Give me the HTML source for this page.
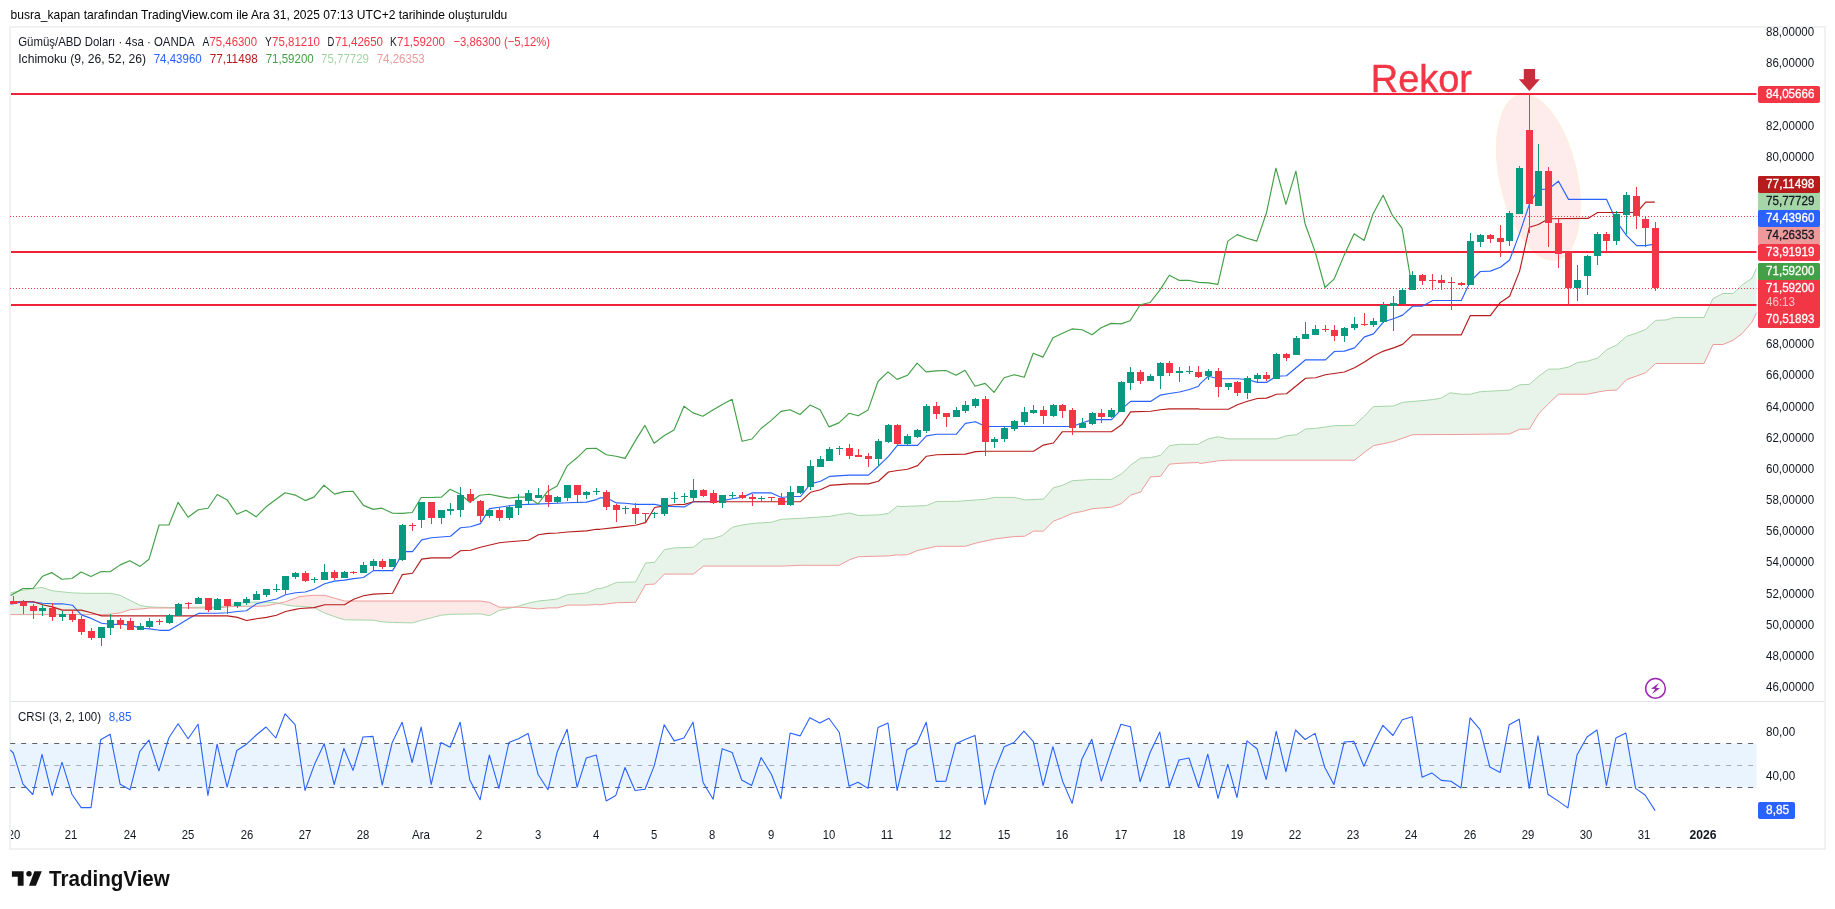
<!DOCTYPE html><html><head><meta charset="utf-8"><style>html,body{margin:0;padding:0;background:#fff;width:1835px;height:909px;overflow:hidden}</style></head><body><svg width="1835" height="909" viewBox="0 0 1835 909" font-family="Liberation Sans, sans-serif" style="position:absolute;left:0;top:0;will-change:transform">
<rect width="1835" height="909" fill="#fff"/>
<rect x="10" y="27" width="1815" height="822" fill="none" stroke="#f0f1f3" stroke-width="2"/>
<rect x="11" y="701" width="1813" height="1" fill="#e0e3eb"/>
<clipPath id="cm"><rect x="10" y="28" width="1746.7" height="672.8"/></clipPath>
<clipPath id="cc"><rect x="10" y="702" width="1746.7" height="118"/></clipPath>
<g clip-path="url(#cm)">
<path d="M10.5,592.9 L23.0,590.2 L33.4,588.5 L41.8,587.5 L52.3,590.8 L62.7,591.9 L72.5,592.9 L83.6,593.3 L101.6,593.3 L110.4,593.3 L120.4,595.4 L130.4,600.6 L140.5,605.5 L149.5,606.9 L159.5,607.3 L169.3,607.5 L178.3,607.5 L217.4,606.9 L227.4,605.9 L237.5,603.8 L246.4,602.1 L256.5,602.1 L266.5,602.1 L276.5,602.7 L278.8,603.3 L278.8,603.3 L276.5,603.8 L266.5,605.9 L256.5,606.3 L246.4,606.3 L237.5,606.3 L227.4,606.9 L217.4,608.0 L178.3,608.0 L169.3,608.0 L159.5,608.0 L149.5,608.0 L140.5,609.0 L130.4,609.6 L120.4,612.8 L110.4,614.2 L101.6,614.6 L83.6,614.6 L72.5,614.6 L62.7,614.6 L52.3,614.6 L41.8,614.6 L33.4,614.6 L23.0,614.6 L10.5,614.6Z" fill="#e8f4e9"/>
<path d="M278.8,603.3 L285.5,604.8 L295.6,606.3 L300.0,606.2 L314.0,607.6 L324.7,613.1 L334.5,616.6 L344.5,619.8 L373.4,620.2 L382.6,621.9 L392.6,622.5 L412.5,622.9 L421.7,620.2 L431.5,617.7 L441.5,615.2 L450.5,614.3 L480.4,613.9 L489.6,615.6 L499.4,610.4 L509.4,608.3 L513.9,607.2 L513.9,607.2 L509.4,607.2 L499.4,607.2 L489.6,602.4 L480.4,601.0 L450.5,601.0 L441.5,601.0 L431.5,601.0 L421.7,601.0 L412.5,601.0 L392.6,601.0 L382.6,601.0 L373.4,601.0 L344.5,601.0 L334.5,598.2 L324.7,595.3 L314.0,595.3 L300.0,596.4 L295.6,598.1 L285.5,601.7 L278.8,603.3Z" fill="#fde9e8"/>
<path d="M513.9,607.2 L518.4,606.2 L528.5,603.0 L538.5,601.0 L548.3,600.1 L557.5,598.9 L567.6,594.7 L586.6,593.0 L596.4,588.8 L600.0,588.7 L606.7,586.6 L616.5,582.4 L635.5,582.0 L645.6,563.0 L654.6,562.4 L664.4,549.6 L674.4,547.9 L693.4,547.3 L703.5,539.2 L713.5,538.5 L722.5,535.4 L732.5,527.2 L742.6,524.9 L752.4,523.5 L771.4,522.2 L781.4,519.3 L800.5,518.3 L829.5,516.4 L839.3,514.5 L849.4,513.0 L858.6,515.5 L878.4,514.9 L888.5,513.4 L897.4,505.9 L900.0,506.6 L907.5,506.3 L917.6,505.9 L926.5,505.6 L936.6,501.4 L956.4,501.4 L965.4,500.7 L975.5,500.0 L985.5,499.3 L994.5,497.4 L1014.5,497.4 L1024.6,499.9 L1033.6,499.5 L1043.4,499.1 L1053.4,487.8 L1062.4,485.3 L1072.4,480.7 L1082.5,480.1 L1092.5,479.4 L1111.5,479.4 L1121.6,473.8 L1130.6,465.2 L1140.6,458.1 L1150.6,457.5 L1160.5,455.4 L1169.4,445.6 L1179.5,444.3 L1198.5,444.3 L1200.0,443.0 L1208.4,438.9 L1218.4,436.8 L1228.4,438.9 L1276.5,438.9 L1286.5,435.7 L1296.6,434.7 L1305.6,429.0 L1315.6,428.4 L1334.4,425.7 L1354.5,425.3 L1364.5,415.9 L1373.5,406.5 L1383.5,406.3 L1393.6,406.0 L1402.6,402.3 L1412.6,401.4 L1422.6,400.6 L1432.7,399.6 L1441.2,398.1 L1450.0,392.8 L1461.5,394.2 L1470.3,394.2 L1480.3,391.7 L1509.6,390.1 L1519.6,384.8 L1529.4,384.4 L1538.4,376.5 L1548.5,369.1 L1558.5,369.1 L1568.5,367.1 L1577.5,362.5 L1587.5,361.2 L1597.6,358.1 L1606.6,349.7 L1616.6,345.1 L1626.6,336.3 L1636.7,333.0 L1645.7,329.4 L1655.7,320.4 L1665.3,320.0 L1674.7,317.5 L1704.0,317.5 L1713.0,298.5 L1723.0,293.5 L1733.0,293.5 L1742.0,285.1 L1752.0,278.2 L1756.6,267.8 L1756.6,312.7 L1752.0,322.1 L1742.0,333.6 L1733.0,340.3 L1723.0,344.5 L1713.0,344.5 L1704.0,363.5 L1674.7,363.5 L1665.3,363.5 L1655.7,363.5 L1645.7,372.7 L1636.7,376.0 L1626.6,379.6 L1616.6,390.1 L1606.6,390.5 L1597.6,392.1 L1587.5,394.2 L1577.5,394.2 L1568.5,394.2 L1558.5,394.2 L1548.5,403.6 L1538.4,414.1 L1529.4,429.1 L1519.6,429.3 L1509.6,433.9 L1480.3,434.3 L1470.3,434.4 L1461.5,434.5 L1450.0,434.6 L1441.2,434.5 L1432.7,434.5 L1422.6,434.6 L1412.6,434.7 L1402.6,438.2 L1393.6,441.4 L1383.5,443.7 L1373.5,445.6 L1364.5,452.4 L1354.5,460.2 L1334.4,460.2 L1315.6,460.2 L1305.6,460.2 L1296.6,460.2 L1286.5,460.2 L1276.5,460.2 L1228.4,460.2 L1218.4,460.8 L1208.4,462.3 L1200.0,463.5 L1198.5,462.5 L1179.5,463.3 L1169.4,464.2 L1160.5,476.3 L1150.6,476.9 L1140.6,492.0 L1130.6,495.1 L1121.6,503.5 L1111.5,507.2 L1092.5,508.7 L1082.5,511.4 L1072.4,513.3 L1062.4,517.7 L1053.4,521.2 L1043.4,531.1 L1033.6,531.1 L1024.6,536.3 L1014.5,536.5 L994.5,539.0 L985.5,541.0 L975.5,543.2 L965.4,546.3 L956.4,546.3 L936.6,546.3 L926.5,548.5 L917.6,550.5 L907.5,554.7 L900.0,555.1 L897.4,554.8 L888.5,555.9 L878.4,556.2 L858.6,556.7 L849.4,559.8 L839.3,565.3 L829.5,565.3 L800.5,565.3 L781.4,566.1 L771.4,566.1 L752.4,566.1 L742.6,566.1 L732.5,566.1 L722.5,566.1 L713.5,566.1 L703.5,566.1 L693.4,574.1 L674.4,574.1 L664.4,574.1 L654.6,584.1 L645.6,584.5 L635.5,602.3 L616.5,602.7 L606.7,603.9 L600.0,604.8 L596.4,604.5 L586.6,605.1 L567.6,605.1 L557.5,607.9 L548.3,607.9 L538.5,608.9 L528.5,607.9 L518.4,607.2 L513.9,607.2Z" fill="#e8f4e9"/>
<path d="M10.5,592.9 L23.0,590.2 L33.4,588.5 L41.8,587.5 L52.3,590.8 L62.7,591.9 L72.5,592.9 L83.6,593.3 L110.4,593.3 L120.4,595.4 L130.4,600.6 L140.5,605.5 L149.5,606.9 L159.5,607.3 L169.3,607.5 L178.3,607.5 L217.4,606.9 L227.4,605.9 L237.5,603.8 L246.4,602.1 L256.5,602.1 L266.5,602.1 L276.5,602.7 L285.5,604.8 L295.6,606.3 L300.0,606.2 L314.0,607.6 L324.7,613.1 L334.5,616.6 L344.5,619.8 L373.4,620.2 L382.6,621.9 L392.6,622.5 L412.5,622.9 L421.7,620.2 L431.5,617.7 L441.5,615.2 L450.5,614.3 L480.4,613.9 L489.6,615.6 L499.4,610.4 L509.4,608.3 L518.4,606.2 L528.5,603.0 L538.5,601.0 L548.3,600.1 L557.5,598.9 L567.6,594.7 L586.6,593.0 L596.4,588.8 L600.0,588.7 L606.7,586.6 L616.5,582.4 L635.5,582.0 L645.6,563.0 L654.6,562.4 L664.4,549.6 L674.4,547.9 L693.4,547.3 L703.5,539.2 L713.5,538.5 L722.5,535.4 L732.5,527.2 L742.6,524.9 L752.4,523.5 L771.4,522.2 L781.4,519.3 L800.5,518.3 L829.5,516.4 L839.3,514.5 L849.4,513.0 L858.6,515.5 L878.4,514.9 L888.5,513.4 L897.4,505.9 L900.0,506.6 L926.5,505.6 L936.6,501.4 L956.4,501.4 L985.5,499.3 L994.5,497.4 L1014.5,497.4 L1024.6,499.9 L1043.4,499.1 L1053.4,487.8 L1062.4,485.3 L1072.4,480.7 L1092.5,479.4 L1111.5,479.4 L1121.6,473.8 L1130.6,465.2 L1140.6,458.1 L1150.6,457.5 L1160.5,455.4 L1169.4,445.6 L1179.5,444.3 L1198.5,444.3 L1200.0,443.0 L1208.4,438.9 L1218.4,436.8 L1228.4,438.9 L1276.5,438.9 L1286.5,435.7 L1296.6,434.7 L1305.6,429.0 L1315.6,428.4 L1334.4,425.7 L1354.5,425.3 L1364.5,415.9 L1373.5,406.5 L1393.6,406.0 L1402.6,402.3 L1422.6,400.6 L1432.7,399.6 L1441.2,398.1 L1450.0,392.8 L1461.5,394.2 L1470.3,394.2 L1480.3,391.7 L1509.6,390.1 L1519.6,384.8 L1529.4,384.4 L1538.4,376.5 L1548.5,369.1 L1558.5,369.1 L1568.5,367.1 L1577.5,362.5 L1587.5,361.2 L1597.6,358.1 L1606.6,349.7 L1616.6,345.1 L1626.6,336.3 L1636.7,333.0 L1645.7,329.4 L1655.7,320.4 L1665.3,320.0 L1674.7,317.5 L1704.0,317.5 L1713.0,298.5 L1723.0,293.5 L1733.0,293.5 L1742.0,285.1 L1752.0,278.2 L1756.6,267.8" fill="none" stroke="#a5d6a7" stroke-width="1"/>
<path d="M10.5,614.6 L101.6,614.6 L110.4,614.2 L120.4,612.8 L130.4,609.6 L140.5,609.0 L149.5,608.0 L159.5,608.0 L217.4,608.0 L227.4,606.9 L237.5,606.3 L246.4,606.3 L256.5,606.3 L266.5,605.9 L276.5,603.8 L285.5,601.7 L295.6,598.1 L300.0,596.4 L314.0,595.3 L324.7,595.3 L334.5,598.2 L344.5,601.0 L480.4,601.0 L489.6,602.4 L499.4,607.2 L518.4,607.2 L528.5,607.9 L538.5,608.9 L548.3,607.9 L557.5,607.9 L567.6,605.1 L586.6,605.1 L596.4,604.5 L600.0,604.8 L616.5,602.7 L635.5,602.3 L645.6,584.5 L654.6,584.1 L664.4,574.1 L693.4,574.1 L703.5,566.1 L781.4,566.1 L800.5,565.3 L839.3,565.3 L849.4,559.8 L858.6,556.7 L888.5,555.9 L897.4,554.8 L900.0,555.1 L907.5,554.7 L917.6,550.5 L936.6,546.3 L965.4,546.3 L975.5,543.2 L994.5,539.0 L1014.5,536.5 L1024.6,536.3 L1033.6,531.1 L1043.4,531.1 L1053.4,521.2 L1062.4,517.7 L1072.4,513.3 L1082.5,511.4 L1092.5,508.7 L1111.5,507.2 L1121.6,503.5 L1130.6,495.1 L1140.6,492.0 L1150.6,476.9 L1160.5,476.3 L1169.4,464.2 L1179.5,463.3 L1198.5,462.5 L1200.0,463.5 L1208.4,462.3 L1218.4,460.8 L1228.4,460.2 L1354.5,460.2 L1364.5,452.4 L1373.5,445.6 L1383.5,443.7 L1393.6,441.4 L1412.6,434.7 L1441.2,434.5 L1450.0,434.6 L1509.6,433.9 L1519.6,429.3 L1529.4,429.1 L1538.4,414.1 L1548.5,403.6 L1558.5,394.2 L1587.5,394.2 L1597.6,392.1 L1606.6,390.5 L1616.6,390.1 L1626.6,379.6 L1636.7,376.0 L1645.7,372.7 L1655.7,363.5 L1704.0,363.5 L1713.0,344.5 L1723.0,344.5 L1733.0,340.3 L1742.0,333.6 L1752.0,322.1 L1756.6,312.7" fill="none" stroke="#ef9a9a" stroke-width="1"/>
<ellipse cx="1538.4" cy="177.2" rx="38.6" ry="84.5" transform="rotate(-12.5 1538.4 177.2)" fill="#fdeceb" stroke="#ffedd8" stroke-width="1"/>
<rect x="11" y="93.0" width="1745.7" height="2" fill="#f1223a"/>
<rect x="11" y="251.0" width="1745.7" height="2" fill="#f1223a"/>
<rect x="11" y="304.0" width="1745.7" height="2" fill="#f1223a"/>
<line x1="10" y1="216.5" x2="1756.7" y2="216.5" stroke="#f23645" stroke-width="1" stroke-dasharray="1,2"/>
<line x1="10" y1="288.5" x2="1756.7" y2="288.5" stroke="#f23645" stroke-width="1" stroke-dasharray="1,2"/>
<path d="M10.5,604.2 L23.0,601.7 L33.4,602.1 L42.6,603.2 L52.3,603.8 L62.3,603.8 L72.5,605.2 L81.3,614.9 L91.3,618.4 L101.6,623.2 L110.4,624.3 L120.4,624.3 L130.4,625.1 L140.5,628.2 L149.5,628.9 L159.5,630.3 L169.3,630.3 L178.3,625.1 L188.3,618.8 L198.4,613.4 L208.4,613.2 L217.4,613.2 L227.4,612.8 L237.5,611.5 L246.4,610.7 L256.5,603.8 L266.5,601.3 L276.5,599.0 L285.5,594.8 L295.6,592.7 L305.2,592.0 L314.0,589.2 L324.7,583.8 L334.5,581.1 L344.5,580.1 L353.7,578.6 L363.5,577.5 L373.4,570.6 L392.6,570.6 L398.2,561.2 L402.4,551.6 L412.5,551.6 L421.7,539.9 L431.5,537.8 L450.5,536.2 L460.5,527.8 L470.6,526.7 L480.4,523.6 L489.6,508.6 L499.4,507.3 L509.4,505.8 L518.4,504.8 L528.5,504.4 L557.5,503.3 L567.6,502.7 L586.6,502.1 L596.4,499.6 L600.0,497.9 L606.7,497.9 L616.5,502.9 L625.5,503.2 L635.5,504.4 L654.6,504.4 L664.4,506.3 L684.4,506.9 L693.4,501.7 L713.5,501.7 L722.5,500.6 L732.5,498.8 L742.6,497.1 L752.4,492.9 L771.4,492.9 L781.4,497.5 L790.4,496.5 L800.5,496.5 L810.5,483.9 L820.5,481.2 L829.5,476.4 L849.4,475.1 L868.4,475.1 L878.4,466.2 L888.5,456.3 L897.4,445.3 L900.0,445.3 L917.6,445.3 L926.5,435.9 L936.6,434.2 L956.4,434.2 L965.4,423.4 L975.5,421.7 L985.5,426.5 L1072.4,426.5 L1082.5,422.7 L1092.5,419.6 L1111.5,419.6 L1121.6,409.1 L1130.6,401.4 L1150.6,401.4 L1160.5,395.1 L1169.4,393.5 L1179.5,392.0 L1189.5,389.5 L1198.5,386.2 L1200.0,383.9 L1208.4,376.2 L1218.4,378.7 L1237.4,378.7 L1247.4,379.5 L1257.5,382.4 L1266.5,382.4 L1276.5,376.2 L1286.5,375.7 L1305.6,359.8 L1325.4,359.8 L1334.4,351.5 L1344.4,351.1 L1354.5,347.9 L1364.5,336.9 L1373.5,333.9 L1383.5,321.8 L1393.6,318.7 L1402.6,315.1 L1412.6,306.3 L1422.6,306.1 L1432.7,300.5 L1461.3,300.5 L1470.3,281.5 L1480.3,271.5 L1490.3,271.1 L1500.4,267.3 L1509.6,260.0 L1519.6,233.4 L1529.4,204.2 L1533.6,196.9 L1538.4,189.6 L1548.5,189.0 L1558.5,181.2 L1568.5,199.4 L1606.6,199.4 L1616.6,221.6 L1626.6,235.6 L1636.7,245.6 L1645.7,245.6 L1652.8,244.4" fill="none" stroke="#2962ff" stroke-width="1.15" stroke-linejoin="round"/>
<path d="M10.5,601.7 L33.4,601.7 L42.6,604.8 L52.3,606.9 L62.3,610.1 L81.3,610.1 L91.3,612.8 L101.6,615.9 L227.4,615.9 L237.5,617.4 L246.4,620.5 L256.5,618.8 L266.5,617.4 L276.5,615.3 L285.5,611.5 L295.6,609.4 L300.0,608.5 L314.0,607.6 L324.7,604.7 L344.5,604.7 L353.7,599.3 L363.5,595.7 L373.4,594.1 L392.6,593.2 L402.4,574.6 L412.5,573.2 L421.7,559.1 L431.5,557.9 L450.5,557.9 L460.5,550.8 L470.6,550.2 L480.4,547.2 L499.4,542.8 L509.4,541.8 L528.5,540.3 L538.5,534.7 L548.3,533.4 L557.5,533.0 L567.6,532.0 L586.6,530.9 L596.4,529.3 L600.0,529.3 L616.5,527.4 L635.5,525.3 L645.6,522.6 L654.6,507.5 L664.4,505.9 L674.4,504.8 L684.4,504.4 L693.4,501.7 L800.5,501.7 L810.5,492.3 L820.5,489.8 L829.5,485.4 L849.4,483.9 L868.4,483.9 L878.4,481.2 L888.5,472.0 L897.4,470.5 L900.0,470.2 L907.5,469.3 L917.6,465.6 L926.5,456.2 L936.6,454.7 L965.4,454.1 L975.5,451.6 L985.5,451.2 L1033.6,451.2 L1043.4,445.1 L1053.4,443.0 L1062.4,431.7 L1111.5,431.7 L1121.6,424.8 L1130.6,411.9 L1150.6,411.2 L1160.5,409.8 L1169.4,408.9 L1198.5,408.9 L1200.0,409.2 L1228.4,409.2 L1237.4,404.8 L1247.4,401.2 L1257.5,398.5 L1266.5,398.1 L1276.5,394.3 L1286.5,393.7 L1305.6,378.2 L1315.6,377.8 L1325.4,374.7 L1344.4,372.0 L1354.5,367.8 L1364.5,361.9 L1373.5,355.9 L1383.5,351.1 L1393.6,347.9 L1402.6,344.4 L1412.6,334.8 L1461.3,334.8 L1470.3,315.6 L1490.3,315.6 L1500.4,302.4 L1509.6,296.2 L1519.6,271.1 L1529.4,227.2 L1538.4,224.5 L1548.5,218.8 L1588.0,218.4 L1597.6,212.5 L1636.7,212.5 L1645.7,202.1 L1654.8,202.1" fill="none" stroke="#b71c1c" stroke-width="1.15" stroke-linejoin="round"/>
<path d="M10.5,595.4 L23.0,588.5 L33.0,588.5 L42.6,576.2 L51.6,572.6 L61.9,579.3 L71.9,578.5 L81.1,572.0 L90.9,576.6 L101.2,571.6 L110.2,571.8 L120.2,564.9 L129.8,560.7 L140.1,566.4 L149.0,559.3 L159.1,525.0 L168.9,525.0 L178.1,502.4 L188.1,517.2 L198.2,509.7 L208.0,508.3 L217.2,494.5 L227.2,499.9 L236.8,514.3 L246.0,510.3 L256.1,516.8 L266.1,506.8 L275.9,499.5 L285.1,492.8 L295.2,495.1 L305.2,500.6 L314.0,497.1 L324.0,485.2 L334.5,494.1 L343.9,491.6 L352.9,491.2 L363.5,505.4 L373.2,509.4 L381.5,508.1 L392.6,513.2 L402.4,513.4 L412.2,512.5 L421.2,497.5 L431.1,497.5 L441.5,497.1 L450.1,489.3 L459.9,493.9 L469.9,502.3 L479.8,495.2 L489.2,494.3 L499.6,496.4 L509.0,498.1 L518.4,497.1 L528.5,497.1 L537.9,504.0 L547.7,491.2 L557.1,486.0 L567.1,465.9 L577.0,457.8 L586.4,448.6 L596.2,448.2 L606.3,454.7 L616.1,456.3 L625.1,458.4 L635.1,441.1 L644.9,425.4 L654.1,443.2 L664.0,435.8 L674.0,430.0 L684.0,406.2 L693.0,412.9 L702.8,416.2 L712.9,410.1 L722.3,404.5 L732.1,399.3 L742.1,441.3 L752.0,439.0 L761.0,428.5 L771.0,420.6 L781.0,411.4 L790.0,409.7 L800.0,414.5 L810.1,405.1 L820.1,409.7 L829.1,426.9 L838.9,422.9 L849.0,413.3 L858.2,415.8 L868.0,410.1 L878.0,381.5 L888.0,371.9 L897.0,379.4 L907.5,375.3 L917.1,363.2 L926.1,371.9 L936.2,370.9 L946.0,370.5 L956.0,375.3 L965.0,370.3 L975.0,386.2 L985.1,383.4 L994.1,392.4 L1004.1,377.8 L1014.1,374.7 L1024.2,377.2 L1033.2,353.3 L1043.0,357.1 L1053.0,337.7 L1062.0,333.5 L1072.0,328.9 L1082.1,329.7 L1092.1,334.7 L1101.1,327.8 L1111.1,323.4 L1121.2,323.9 L1130.1,320.7 L1140.2,304.7 L1150.1,302.5 L1160.0,289.9 L1169.3,275.3 L1179.0,280.3 L1188.6,280.3 L1198.5,282.4 L1208.4,282.9 L1217.9,284.4 L1227.8,241.1 L1237.2,234.6 L1246.9,238.2 L1256.8,241.1 L1266.5,212.7 L1275.9,168.2 L1285.9,204.3 L1295.9,171.1 L1304.9,223.2 L1315.0,251.4 L1325.0,287.5 L1334.0,279.2 L1344.0,255.6 L1354.1,233.8 L1364.1,240.5 L1373.1,213.8 L1383.1,195.2 L1392.1,214.8 L1402.1,228.4 L1410.1,275.4 L1412.2,288.4" fill="none" stroke="#43a047" stroke-width="1.15" stroke-linejoin="round"/>
<rect x="13" y="596" width="1" height="8" fill="#f23645"/>
<rect x="10" y="601" width="7" height="3" fill="#f23645"/>
<rect x="23" y="600" width="1" height="14" fill="#f23645"/>
<rect x="20" y="602" width="7" height="4" fill="#f23645"/>
<rect x="33" y="604" width="1" height="15" fill="#f23645"/>
<rect x="30" y="606" width="7" height="5" fill="#f23645"/>
<rect x="42" y="605" width="1" height="11" fill="#089981"/>
<rect x="39" y="608" width="7" height="3" fill="#089981"/>
<rect x="52" y="603" width="1" height="18" fill="#f23645"/>
<rect x="49" y="608" width="7" height="9" fill="#f23645"/>
<rect x="62" y="611" width="1" height="10" fill="#089981"/>
<rect x="59" y="614" width="7" height="3" fill="#089981"/>
<rect x="72" y="610" width="1" height="12" fill="#f23645"/>
<rect x="69" y="614" width="7" height="6" fill="#f23645"/>
<rect x="81" y="616" width="1" height="19" fill="#f23645"/>
<rect x="78" y="619" width="7" height="13" fill="#f23645"/>
<rect x="91" y="628" width="1" height="12" fill="#f23645"/>
<rect x="88" y="631" width="7" height="7" fill="#f23645"/>
<rect x="101" y="627" width="1" height="19" fill="#089981"/>
<rect x="98" y="627" width="7" height="11" fill="#089981"/>
<rect x="110" y="614" width="1" height="21" fill="#089981"/>
<rect x="107" y="620" width="7" height="8" fill="#089981"/>
<rect x="120" y="618" width="1" height="11" fill="#f23645"/>
<rect x="117" y="620" width="7" height="5" fill="#f23645"/>
<rect x="130" y="618" width="1" height="12" fill="#f23645"/>
<rect x="127" y="621" width="7" height="9" fill="#f23645"/>
<rect x="140" y="623" width="1" height="7" fill="#089981"/>
<rect x="137" y="626" width="7" height="4" fill="#089981"/>
<rect x="149" y="618" width="1" height="10" fill="#089981"/>
<rect x="146" y="621" width="7" height="6" fill="#089981"/>
<rect x="159" y="619" width="1" height="6" fill="#f23645"/>
<rect x="156" y="621" width="7" height="1" fill="#f23645"/>
<rect x="169" y="614" width="1" height="10" fill="#089981"/>
<rect x="166" y="615" width="7" height="8" fill="#089981"/>
<rect x="178" y="603" width="1" height="13" fill="#089981"/>
<rect x="175" y="604" width="7" height="12" fill="#089981"/>
<rect x="188" y="602" width="1" height="7" fill="#f23645"/>
<rect x="185" y="603" width="7" height="1" fill="#f23645"/>
<rect x="198" y="597" width="1" height="7" fill="#089981"/>
<rect x="195" y="598" width="7" height="6" fill="#089981"/>
<rect x="208" y="598" width="1" height="14" fill="#f23645"/>
<rect x="205" y="598" width="7" height="12" fill="#f23645"/>
<rect x="217" y="598" width="1" height="12" fill="#089981"/>
<rect x="214" y="599" width="7" height="11" fill="#089981"/>
<rect x="227" y="599" width="1" height="15" fill="#f23645"/>
<rect x="224" y="599" width="7" height="7" fill="#f23645"/>
<rect x="237" y="602" width="1" height="6" fill="#089981"/>
<rect x="234" y="602" width="7" height="4" fill="#089981"/>
<rect x="246" y="597" width="1" height="8" fill="#089981"/>
<rect x="243" y="599" width="7" height="4" fill="#089981"/>
<rect x="256" y="591" width="1" height="9" fill="#089981"/>
<rect x="253" y="594" width="7" height="6" fill="#089981"/>
<rect x="266" y="589" width="1" height="8" fill="#089981"/>
<rect x="263" y="589" width="7" height="6" fill="#089981"/>
<rect x="276" y="584" width="1" height="8" fill="#089981"/>
<rect x="273" y="589" width="7" height="1" fill="#089981"/>
<rect x="285" y="576" width="1" height="18" fill="#089981"/>
<rect x="282" y="576" width="7" height="14" fill="#089981"/>
<rect x="295" y="572" width="1" height="7" fill="#089981"/>
<rect x="292" y="573" width="7" height="4" fill="#089981"/>
<rect x="305" y="571" width="1" height="11" fill="#f23645"/>
<rect x="302" y="573" width="7" height="8" fill="#f23645"/>
<rect x="314" y="577" width="1" height="6" fill="#089981"/>
<rect x="311" y="579" width="7" height="1" fill="#089981"/>
<rect x="324" y="564" width="1" height="16" fill="#089981"/>
<rect x="321" y="572" width="7" height="8" fill="#089981"/>
<rect x="334" y="570" width="1" height="10" fill="#f23645"/>
<rect x="331" y="572" width="7" height="6" fill="#f23645"/>
<rect x="344" y="571" width="1" height="7" fill="#089981"/>
<rect x="341" y="572" width="7" height="6" fill="#089981"/>
<rect x="353" y="571" width="1" height="3" fill="#f23645"/>
<rect x="350" y="572" width="7" height="1" fill="#f23645"/>
<rect x="363" y="562" width="1" height="11" fill="#089981"/>
<rect x="360" y="565" width="7" height="8" fill="#089981"/>
<rect x="373" y="559" width="1" height="11" fill="#089981"/>
<rect x="370" y="561" width="7" height="5" fill="#089981"/>
<rect x="382" y="559" width="1" height="10" fill="#f23645"/>
<rect x="379" y="561" width="7" height="6" fill="#f23645"/>
<rect x="392" y="559" width="1" height="8" fill="#089981"/>
<rect x="389" y="559" width="7" height="8" fill="#089981"/>
<rect x="402" y="524" width="1" height="37" fill="#089981"/>
<rect x="399" y="525" width="7" height="35" fill="#089981"/>
<rect x="412" y="523" width="1" height="8" fill="#f23645"/>
<rect x="409" y="525" width="7" height="1" fill="#f23645"/>
<rect x="421" y="502" width="1" height="26" fill="#089981"/>
<rect x="418" y="502" width="7" height="18" fill="#089981"/>
<rect x="431" y="502" width="1" height="22" fill="#f23645"/>
<rect x="428" y="502" width="7" height="16" fill="#f23645"/>
<rect x="441" y="510" width="1" height="14" fill="#089981"/>
<rect x="438" y="510" width="7" height="8" fill="#089981"/>
<rect x="450" y="503" width="1" height="12" fill="#089981"/>
<rect x="447" y="509" width="7" height="2" fill="#089981"/>
<rect x="460" y="487" width="1" height="30" fill="#089981"/>
<rect x="457" y="495" width="7" height="15" fill="#089981"/>
<rect x="470" y="489" width="1" height="14" fill="#f23645"/>
<rect x="467" y="494" width="7" height="7" fill="#f23645"/>
<rect x="480" y="500" width="1" height="22" fill="#f23645"/>
<rect x="477" y="501" width="7" height="15" fill="#f23645"/>
<rect x="489" y="510" width="1" height="8" fill="#089981"/>
<rect x="486" y="510" width="7" height="6" fill="#089981"/>
<rect x="499" y="507" width="1" height="14" fill="#f23645"/>
<rect x="496" y="510" width="7" height="8" fill="#f23645"/>
<rect x="509" y="506" width="1" height="14" fill="#089981"/>
<rect x="506" y="507" width="7" height="11" fill="#089981"/>
<rect x="518" y="494" width="1" height="21" fill="#089981"/>
<rect x="515" y="500" width="7" height="8" fill="#089981"/>
<rect x="528" y="490" width="1" height="14" fill="#089981"/>
<rect x="525" y="493" width="7" height="8" fill="#089981"/>
<rect x="538" y="488" width="1" height="10" fill="#089981"/>
<rect x="535" y="495" width="7" height="3" fill="#089981"/>
<rect x="548" y="485" width="1" height="22" fill="#f23645"/>
<rect x="545" y="495" width="7" height="7" fill="#f23645"/>
<rect x="557" y="496" width="1" height="7" fill="#089981"/>
<rect x="554" y="497" width="7" height="5" fill="#089981"/>
<rect x="567" y="485" width="1" height="16" fill="#089981"/>
<rect x="564" y="485" width="7" height="13" fill="#089981"/>
<rect x="577" y="485" width="1" height="18" fill="#f23645"/>
<rect x="574" y="485" width="7" height="10" fill="#f23645"/>
<rect x="586" y="491" width="1" height="8" fill="#089981"/>
<rect x="583" y="492" width="7" height="3" fill="#089981"/>
<rect x="596" y="488" width="1" height="7" fill="#089981"/>
<rect x="593" y="491" width="7" height="1" fill="#089981"/>
<rect x="606" y="490" width="1" height="20" fill="#f23645"/>
<rect x="603" y="492" width="7" height="15" fill="#f23645"/>
<rect x="616" y="504" width="1" height="18" fill="#f23645"/>
<rect x="613" y="505" width="7" height="5" fill="#f23645"/>
<rect x="625" y="506" width="1" height="8" fill="#089981"/>
<rect x="622" y="508" width="7" height="1" fill="#089981"/>
<rect x="635" y="503" width="1" height="21" fill="#f23645"/>
<rect x="632" y="508" width="7" height="6" fill="#f23645"/>
<rect x="645" y="513" width="1" height="9" fill="#f23645"/>
<rect x="642" y="513" width="7" height="1" fill="#f23645"/>
<rect x="654" y="512" width="1" height="6" fill="#089981"/>
<rect x="651" y="513" width="7" height="1" fill="#089981"/>
<rect x="664" y="498" width="1" height="18" fill="#089981"/>
<rect x="661" y="498" width="7" height="16" fill="#089981"/>
<rect x="674" y="492" width="1" height="11" fill="#089981"/>
<rect x="671" y="498" width="7" height="1" fill="#089981"/>
<rect x="684" y="493" width="1" height="10" fill="#089981"/>
<rect x="681" y="496" width="7" height="1" fill="#089981"/>
<rect x="693" y="479" width="1" height="23" fill="#089981"/>
<rect x="690" y="490" width="7" height="8" fill="#089981"/>
<rect x="703" y="489" width="1" height="8" fill="#f23645"/>
<rect x="700" y="490" width="7" height="6" fill="#f23645"/>
<rect x="713" y="490" width="1" height="14" fill="#f23645"/>
<rect x="710" y="493" width="7" height="10" fill="#f23645"/>
<rect x="722" y="495" width="1" height="13" fill="#089981"/>
<rect x="719" y="495" width="7" height="8" fill="#089981"/>
<rect x="732" y="492" width="1" height="6" fill="#089981"/>
<rect x="729" y="495" width="7" height="1" fill="#089981"/>
<rect x="742" y="492" width="1" height="7" fill="#f23645"/>
<rect x="739" y="495" width="7" height="3" fill="#f23645"/>
<rect x="752" y="494" width="1" height="12" fill="#f23645"/>
<rect x="749" y="497" width="7" height="2" fill="#f23645"/>
<rect x="761" y="496" width="1" height="6" fill="#089981"/>
<rect x="758" y="498" width="7" height="1" fill="#089981"/>
<rect x="771" y="497" width="1" height="5" fill="#f23645"/>
<rect x="768" y="497" width="7" height="1" fill="#f23645"/>
<rect x="781" y="493" width="1" height="12" fill="#f23645"/>
<rect x="778" y="498" width="7" height="7" fill="#f23645"/>
<rect x="790" y="486" width="1" height="20" fill="#089981"/>
<rect x="787" y="492" width="7" height="13" fill="#089981"/>
<rect x="800" y="486" width="1" height="8" fill="#089981"/>
<rect x="797" y="486" width="7" height="7" fill="#089981"/>
<rect x="810" y="460" width="1" height="30" fill="#089981"/>
<rect x="807" y="466" width="7" height="21" fill="#089981"/>
<rect x="820" y="456" width="1" height="11" fill="#089981"/>
<rect x="817" y="459" width="7" height="8" fill="#089981"/>
<rect x="829" y="447" width="1" height="14" fill="#089981"/>
<rect x="826" y="449" width="7" height="12" fill="#089981"/>
<rect x="839" y="446" width="1" height="9" fill="#089981"/>
<rect x="836" y="448" width="7" height="1" fill="#089981"/>
<rect x="849" y="444" width="1" height="15" fill="#f23645"/>
<rect x="846" y="448" width="7" height="8" fill="#f23645"/>
<rect x="858" y="449" width="1" height="8" fill="#f23645"/>
<rect x="855" y="455" width="7" height="2" fill="#f23645"/>
<rect x="868" y="453" width="1" height="14" fill="#f23645"/>
<rect x="865" y="456" width="7" height="3" fill="#f23645"/>
<rect x="878" y="439" width="1" height="27" fill="#089981"/>
<rect x="875" y="441" width="7" height="18" fill="#089981"/>
<rect x="888" y="424" width="1" height="19" fill="#089981"/>
<rect x="885" y="425" width="7" height="17" fill="#089981"/>
<rect x="897" y="424" width="1" height="22" fill="#f23645"/>
<rect x="894" y="425" width="7" height="19" fill="#f23645"/>
<rect x="907" y="434" width="1" height="12" fill="#089981"/>
<rect x="904" y="436" width="7" height="8" fill="#089981"/>
<rect x="917" y="429" width="1" height="9" fill="#089981"/>
<rect x="914" y="430" width="7" height="7" fill="#089981"/>
<rect x="926" y="404" width="1" height="29" fill="#089981"/>
<rect x="923" y="406" width="7" height="25" fill="#089981"/>
<rect x="936" y="402" width="1" height="17" fill="#f23645"/>
<rect x="933" y="406" width="7" height="8" fill="#f23645"/>
<rect x="946" y="413" width="1" height="14" fill="#f23645"/>
<rect x="943" y="413" width="7" height="4" fill="#f23645"/>
<rect x="956" y="407" width="1" height="10" fill="#089981"/>
<rect x="953" y="410" width="7" height="7" fill="#089981"/>
<rect x="965" y="401" width="1" height="12" fill="#089981"/>
<rect x="962" y="405" width="7" height="6" fill="#089981"/>
<rect x="975" y="398" width="1" height="10" fill="#089981"/>
<rect x="972" y="399" width="7" height="7" fill="#089981"/>
<rect x="985" y="396" width="1" height="60" fill="#f23645"/>
<rect x="982" y="399" width="7" height="43" fill="#f23645"/>
<rect x="994" y="437" width="1" height="11" fill="#089981"/>
<rect x="991" y="439" width="7" height="3" fill="#089981"/>
<rect x="1004" y="426" width="1" height="16" fill="#089981"/>
<rect x="1001" y="428" width="7" height="11" fill="#089981"/>
<rect x="1014" y="420" width="1" height="11" fill="#089981"/>
<rect x="1011" y="421" width="7" height="8" fill="#089981"/>
<rect x="1024" y="407" width="1" height="18" fill="#089981"/>
<rect x="1021" y="412" width="7" height="10" fill="#089981"/>
<rect x="1033" y="405" width="1" height="9" fill="#089981"/>
<rect x="1030" y="410" width="7" height="3" fill="#089981"/>
<rect x="1043" y="406" width="1" height="18" fill="#f23645"/>
<rect x="1040" y="410" width="7" height="6" fill="#f23645"/>
<rect x="1053" y="404" width="1" height="13" fill="#089981"/>
<rect x="1050" y="405" width="7" height="11" fill="#089981"/>
<rect x="1062" y="404" width="1" height="14" fill="#f23645"/>
<rect x="1059" y="405" width="7" height="6" fill="#f23645"/>
<rect x="1072" y="408" width="1" height="27" fill="#f23645"/>
<rect x="1069" y="410" width="7" height="18" fill="#f23645"/>
<rect x="1082" y="418" width="1" height="10" fill="#089981"/>
<rect x="1079" y="423" width="7" height="5" fill="#089981"/>
<rect x="1092" y="412" width="1" height="13" fill="#089981"/>
<rect x="1089" y="413" width="7" height="11" fill="#089981"/>
<rect x="1101" y="409" width="1" height="14" fill="#f23645"/>
<rect x="1098" y="413" width="7" height="4" fill="#f23645"/>
<rect x="1111" y="408" width="1" height="10" fill="#089981"/>
<rect x="1108" y="410" width="7" height="7" fill="#089981"/>
<rect x="1121" y="381" width="1" height="31" fill="#089981"/>
<rect x="1118" y="382" width="7" height="30" fill="#089981"/>
<rect x="1130" y="367" width="1" height="23" fill="#089981"/>
<rect x="1127" y="372" width="7" height="11" fill="#089981"/>
<rect x="1140" y="370" width="1" height="14" fill="#f23645"/>
<rect x="1137" y="372" width="7" height="9" fill="#f23645"/>
<rect x="1150" y="374" width="1" height="7" fill="#089981"/>
<rect x="1147" y="376" width="7" height="5" fill="#089981"/>
<rect x="1160" y="362" width="1" height="27" fill="#089981"/>
<rect x="1157" y="363" width="7" height="13" fill="#089981"/>
<rect x="1169" y="361" width="1" height="15" fill="#f23645"/>
<rect x="1166" y="363" width="7" height="10" fill="#f23645"/>
<rect x="1179" y="367" width="1" height="15" fill="#089981"/>
<rect x="1176" y="371" width="7" height="2" fill="#089981"/>
<rect x="1189" y="366" width="1" height="8" fill="#089981"/>
<rect x="1186" y="371" width="7" height="1" fill="#089981"/>
<rect x="1198" y="366" width="1" height="12" fill="#f23645"/>
<rect x="1195" y="372" width="7" height="5" fill="#f23645"/>
<rect x="1208" y="369" width="1" height="11" fill="#089981"/>
<rect x="1205" y="371" width="7" height="5" fill="#089981"/>
<rect x="1218" y="368" width="1" height="29" fill="#f23645"/>
<rect x="1215" y="371" width="7" height="16" fill="#f23645"/>
<rect x="1228" y="383" width="1" height="7" fill="#089981"/>
<rect x="1225" y="383" width="7" height="4" fill="#089981"/>
<rect x="1237" y="381" width="1" height="15" fill="#f23645"/>
<rect x="1234" y="382" width="7" height="11" fill="#f23645"/>
<rect x="1247" y="376" width="1" height="23" fill="#089981"/>
<rect x="1244" y="378" width="7" height="15" fill="#089981"/>
<rect x="1257" y="373" width="1" height="9" fill="#089981"/>
<rect x="1254" y="375" width="7" height="4" fill="#089981"/>
<rect x="1266" y="372" width="1" height="9" fill="#f23645"/>
<rect x="1263" y="375" width="7" height="4" fill="#f23645"/>
<rect x="1276" y="353" width="1" height="26" fill="#089981"/>
<rect x="1273" y="354" width="7" height="25" fill="#089981"/>
<rect x="1286" y="353" width="1" height="8" fill="#f23645"/>
<rect x="1283" y="354" width="7" height="4" fill="#f23645"/>
<rect x="1296" y="336" width="1" height="19" fill="#089981"/>
<rect x="1293" y="338" width="7" height="17" fill="#089981"/>
<rect x="1305" y="322" width="1" height="17" fill="#089981"/>
<rect x="1302" y="334" width="7" height="5" fill="#089981"/>
<rect x="1315" y="325" width="1" height="10" fill="#089981"/>
<rect x="1312" y="329" width="7" height="6" fill="#089981"/>
<rect x="1325" y="325" width="1" height="7" fill="#f23645"/>
<rect x="1322" y="329" width="7" height="1" fill="#f23645"/>
<rect x="1334" y="325" width="1" height="16" fill="#f23645"/>
<rect x="1331" y="330" width="7" height="6" fill="#f23645"/>
<rect x="1344" y="327" width="1" height="15" fill="#089981"/>
<rect x="1341" y="328" width="7" height="8" fill="#089981"/>
<rect x="1354" y="317" width="1" height="13" fill="#089981"/>
<rect x="1351" y="324" width="7" height="4" fill="#089981"/>
<rect x="1364" y="313" width="1" height="13" fill="#f23645"/>
<rect x="1361" y="324" width="7" height="1" fill="#f23645"/>
<rect x="1373" y="318" width="1" height="9" fill="#089981"/>
<rect x="1370" y="321" width="7" height="4" fill="#089981"/>
<rect x="1383" y="302" width="1" height="21" fill="#089981"/>
<rect x="1380" y="305" width="7" height="17" fill="#089981"/>
<rect x="1393" y="296" width="1" height="35" fill="#089981"/>
<rect x="1390" y="303" width="7" height="3" fill="#089981"/>
<rect x="1402" y="288" width="1" height="16" fill="#089981"/>
<rect x="1399" y="290" width="7" height="14" fill="#089981"/>
<rect x="1412" y="271" width="1" height="19" fill="#089981"/>
<rect x="1409" y="275" width="7" height="15" fill="#089981"/>
<rect x="1422" y="274" width="1" height="11" fill="#f23645"/>
<rect x="1419" y="275" width="7" height="6" fill="#f23645"/>
<rect x="1432" y="274" width="1" height="16" fill="#f23645"/>
<rect x="1429" y="280" width="7" height="1" fill="#f23645"/>
<rect x="1441" y="275" width="1" height="15" fill="#f23645"/>
<rect x="1438" y="280" width="7" height="3" fill="#f23645"/>
<rect x="1451" y="277" width="1" height="33" fill="#f23645"/>
<rect x="1448" y="282" width="7" height="1" fill="#f23645"/>
<rect x="1461" y="282" width="1" height="4" fill="#f23645"/>
<rect x="1458" y="283" width="7" height="2" fill="#f23645"/>
<rect x="1470" y="233" width="1" height="52" fill="#089981"/>
<rect x="1467" y="241" width="7" height="44" fill="#089981"/>
<rect x="1480" y="234" width="1" height="13" fill="#089981"/>
<rect x="1477" y="235" width="7" height="7" fill="#089981"/>
<rect x="1490" y="234" width="1" height="9" fill="#f23645"/>
<rect x="1487" y="235" width="7" height="4" fill="#f23645"/>
<rect x="1500" y="225" width="1" height="32" fill="#f23645"/>
<rect x="1497" y="238" width="7" height="4" fill="#f23645"/>
<rect x="1509" y="211" width="1" height="35" fill="#089981"/>
<rect x="1506" y="213" width="7" height="28" fill="#089981"/>
<rect x="1519" y="166" width="1" height="48" fill="#089981"/>
<rect x="1516" y="168" width="7" height="46" fill="#089981"/>
<rect x="1529" y="93" width="1" height="140" fill="#f23645"/>
<rect x="1526" y="130" width="7" height="74" fill="#f23645"/>
<rect x="1538" y="144" width="1" height="62" fill="#089981"/>
<rect x="1535" y="171" width="7" height="35" fill="#089981"/>
<rect x="1548" y="167" width="1" height="80" fill="#f23645"/>
<rect x="1545" y="171" width="7" height="52" fill="#f23645"/>
<rect x="1558" y="219" width="1" height="49" fill="#f23645"/>
<rect x="1555" y="223" width="7" height="31" fill="#f23645"/>
<rect x="1568" y="252" width="1" height="53" fill="#f23645"/>
<rect x="1565" y="252" width="7" height="36" fill="#f23645"/>
<rect x="1577" y="265" width="1" height="36" fill="#089981"/>
<rect x="1574" y="280" width="7" height="8" fill="#089981"/>
<rect x="1587" y="255" width="1" height="40" fill="#089981"/>
<rect x="1584" y="256" width="7" height="20" fill="#089981"/>
<rect x="1597" y="232" width="1" height="33" fill="#089981"/>
<rect x="1594" y="234" width="7" height="22" fill="#089981"/>
<rect x="1606" y="232" width="1" height="20" fill="#f23645"/>
<rect x="1603" y="234" width="7" height="7" fill="#f23645"/>
<rect x="1616" y="211" width="1" height="34" fill="#089981"/>
<rect x="1613" y="214" width="7" height="27" fill="#089981"/>
<rect x="1626" y="192" width="1" height="42" fill="#089981"/>
<rect x="1623" y="195" width="7" height="20" fill="#089981"/>
<rect x="1636" y="187" width="1" height="42" fill="#f23645"/>
<rect x="1633" y="196" width="7" height="20" fill="#f23645"/>
<rect x="1645" y="216" width="1" height="31" fill="#f23645"/>
<rect x="1642" y="219" width="7" height="9" fill="#f23645"/>
<rect x="1655" y="222" width="1" height="69" fill="#f23645"/>
<rect x="1652" y="228" width="7" height="60" fill="#f23645"/>
</g>
<text x="1370.8" y="91.6" font-size="38.5" fill="#f23645" text-anchor="start" textLength="101.2" lengthAdjust="spacingAndGlyphs" stroke="#f23645" stroke-width="0.4">Rekor</text>
<path d="M1523.8,69 H1535.1 V79.2 H1539.9 L1529.4,91 L1518.9,79.2 H1523.8 Z" fill="#c92c3b"/>
<circle cx="1655.5" cy="688.4" r="9.85" fill="#fff" stroke="#9c27b0" stroke-width="1.5"/>
<path d="M1658.9,683 L1651,688.7 L1655.2,689 L1652,693.9 L1660,688.2 L1656,687.8 Z" fill="#9c27b0"/>
<g clip-path="url(#cc)">
<rect x="10" y="743.5" width="1746.7" height="44" fill="#e9f4fe"/>
<line x1="10.2" y1="743.5" x2="1756.7" y2="743.5" stroke="#5d606b" stroke-width="1" stroke-dasharray="5,6"/>
<line x1="10.2" y1="765.5" x2="1756.7" y2="765.5" stroke="#a9abb3" stroke-width="1" stroke-dasharray="5,6"/>
<line x1="10.2" y1="787.5" x2="1756.7" y2="787.5" stroke="#5d606b" stroke-width="1" stroke-dasharray="5,6"/>
<path d="M10.3,750.0 L13.3,753.0 L23.0,784.2 L32.8,794.5 L42.0,754.4 L52.2,795.4 L62.0,762.2 L71.9,794.2 L81.2,807.6 L91.0,807.6 L100.7,739.7 L110.1,734.2 L120.1,784.2 L130.1,789.7 L139.7,751.7 L148.9,740.0 L158.9,770.9 L168.8,738.0 L178.1,723.8 L188.1,738.7 L198.1,724.2 L207.9,795.5 L217.1,744.2 L227.1,787.2 L236.8,750.5 L246.5,744.2 L256.3,735.0 L266.0,727.0 L275.8,738.0 L285.1,713.8 L295.1,724.7 L305.0,790.5 L314.7,763.9 L324.2,743.7 L334.2,784.5 L343.9,748.4 L353.0,770.4 L363.0,737.0 L373.0,736.4 L382.2,785.0 L392.2,742.5 L402.1,722.2 L412.1,762.5 L421.2,727.0 L431.2,784.5 L440.9,742.5 L450.1,747.2 L460.1,722.2 L469.8,780.0 L480.1,799.7 L489.3,755.0 L498.9,788.4 L508.9,742.5 L518.4,738.7 L528.1,733.4 L538.1,774.5 L548.0,789.7 L557.3,751.7 L567.1,729.2 L577.1,787.2 L586.3,758.0 L596.3,755.0 L606.2,800.9 L615.8,795.4 L625.0,767.5 L635.0,790.5 L645.0,789.2 L654.2,765.9 L664.2,724.7 L674.2,740.9 L683.9,738.0 L693.0,722.2 L703.1,782.5 L713.1,799.2 L722.2,748.7 L732.2,752.5 L741.7,780.0 L751.7,785.4 L761.1,757.5 L771.4,774.2 L780.9,798.7 L790.1,733.0 L800.1,735.9 L809.8,717.8 L819.8,723.0 L828.9,718.3 L839.3,732.5 L849.0,786.2 L858.0,782.2 L868.0,788.4 L878.0,727.5 L888.0,723.0 L897.1,790.5 L907.0,749.7 L916.7,743.7 L926.2,722.2 L936.2,781.4 L945.9,781.2 L955.9,743.7 L965.5,739.2 L975.0,735.4 L985.0,804.6 L994.5,770.9 L1004.2,746.7 L1013.9,742.5 L1023.9,731.2 L1033.4,741.7 L1043.1,785.5 L1052.9,746.7 L1062.6,781.2 L1072.1,803.4 L1081.8,759.2 L1091.8,739.2 L1101.3,781.2 L1111.3,750.9 L1120.9,724.2 L1130.4,726.7 L1140.1,781.7 L1150.1,752.5 L1159.8,732.0 L1169.3,786.7 L1179.0,760.0 L1189.0,758.0 L1198.5,787.0 L1207.8,754.2 L1218.0,798.4 L1227.8,764.2 L1237.0,797.5 L1247.0,740.9 L1257.0,748.7 L1266.2,779.5 L1276.2,731.3 L1285.9,771.7 L1295.5,730.0 L1305.1,739.5 L1315.1,733.4 L1324.7,767.2 L1333.9,784.5 L1344.2,742.0 L1353.9,741.4 L1363.9,766.4 L1373.4,744.2 L1382.9,725.3 L1392.9,735.5 L1402.3,719.7 L1412.1,716.7 L1422.1,777.2 L1431.8,772.9 L1441.3,780.4 L1451.0,781.2 L1461.0,788.0 L1470.1,717.8 L1480.1,729.7 L1489.8,767.0 L1500.2,772.5 L1509.2,724.7 L1519.2,719.2 L1529.2,788.4 L1538.0,735.9 L1547.9,794.2 L1557.9,800.9 L1567.9,807.9 L1577.0,755.0 L1587.0,737.0 L1597.0,730.0 L1606.4,785.5 L1615.9,738.0 L1625.9,733.0 L1635.6,788.4 L1645.1,795.0 L1655.1,810.6" fill="none" stroke="#2962ff" stroke-width="1.1" stroke-linejoin="round"/>
</g>
<text x="1766.0" y="36.2" font-size="12.7" fill="#131722" text-anchor="start" textLength="48.2" lengthAdjust="spacingAndGlyphs">88,00000</text>
<text x="1766.0" y="67.4" font-size="12.7" fill="#131722" text-anchor="start" textLength="48.2" lengthAdjust="spacingAndGlyphs">86,00000</text>
<text x="1766.0" y="129.8" font-size="12.7" fill="#131722" text-anchor="start" textLength="48.2" lengthAdjust="spacingAndGlyphs">82,00000</text>
<text x="1766.0" y="161.0" font-size="12.7" fill="#131722" text-anchor="start" textLength="48.2" lengthAdjust="spacingAndGlyphs">80,00000</text>
<text x="1766.0" y="348.1" font-size="12.7" fill="#131722" text-anchor="start" textLength="48.2" lengthAdjust="spacingAndGlyphs">68,00000</text>
<text x="1766.0" y="379.3" font-size="12.7" fill="#131722" text-anchor="start" textLength="48.2" lengthAdjust="spacingAndGlyphs">66,00000</text>
<text x="1766.0" y="410.5" font-size="12.7" fill="#131722" text-anchor="start" textLength="48.2" lengthAdjust="spacingAndGlyphs">64,00000</text>
<text x="1766.0" y="441.7" font-size="12.7" fill="#131722" text-anchor="start" textLength="48.2" lengthAdjust="spacingAndGlyphs">62,00000</text>
<text x="1766.0" y="472.9" font-size="12.7" fill="#131722" text-anchor="start" textLength="48.2" lengthAdjust="spacingAndGlyphs">60,00000</text>
<text x="1766.0" y="504.1" font-size="12.7" fill="#131722" text-anchor="start" textLength="48.2" lengthAdjust="spacingAndGlyphs">58,00000</text>
<text x="1766.0" y="535.2" font-size="12.7" fill="#131722" text-anchor="start" textLength="48.2" lengthAdjust="spacingAndGlyphs">56,00000</text>
<text x="1766.0" y="566.4" font-size="12.7" fill="#131722" text-anchor="start" textLength="48.2" lengthAdjust="spacingAndGlyphs">54,00000</text>
<text x="1766.0" y="597.6" font-size="12.7" fill="#131722" text-anchor="start" textLength="48.2" lengthAdjust="spacingAndGlyphs">52,00000</text>
<text x="1766.0" y="628.8" font-size="12.7" fill="#131722" text-anchor="start" textLength="48.2" lengthAdjust="spacingAndGlyphs">50,00000</text>
<text x="1766.0" y="660.0" font-size="12.7" fill="#131722" text-anchor="start" textLength="48.2" lengthAdjust="spacingAndGlyphs">48,00000</text>
<text x="1766.0" y="691.2" font-size="12.7" fill="#131722" text-anchor="start" textLength="48.2" lengthAdjust="spacingAndGlyphs">46,00000</text>
<text x="1766.0" y="735.9" font-size="12.7" fill="#131722" text-anchor="start" textLength="29.2" lengthAdjust="spacingAndGlyphs">80,00</text>
<text x="1766.0" y="780.0" font-size="12.7" fill="#131722" text-anchor="start" textLength="29.2" lengthAdjust="spacingAndGlyphs">40,00</text>
<rect x="1758" y="86.0" width="62" height="17.0" rx="2" fill="#f23645"/>
<text x="1766.0" y="97.8" font-size="12.7" fill="#fff" text-anchor="start" textLength="48.4" lengthAdjust="spacingAndGlyphs" stroke="#fff" stroke-width="0.3">84,05666</text>
<rect x="1758" y="176.0" width="62" height="17.0" rx="2" fill="#b71c1c"/>
<text x="1766.0" y="187.8" font-size="12.7" fill="#fff" text-anchor="start" textLength="48.4" lengthAdjust="spacingAndGlyphs" stroke="#fff" stroke-width="0.3">77,11498</text>
<rect x="1758" y="191.0" width="62" height="19.0" rx="0" fill="#a5d6a7"/>
<rect x="1758" y="176.0" width="62" height="17.0" rx="2" fill="#b71c1c"/>
<text x="1766.0" y="187.8" font-size="12.7" fill="#fff" text-anchor="start" textLength="48.4" lengthAdjust="spacingAndGlyphs" stroke="#fff" stroke-width="0.3">77,11498</text>
<rect x="1758" y="193.0" width="62" height="17.0" rx="0" fill="#a5d6a7"/>
<text x="1766.0" y="204.8" font-size="12.7" fill="#131722" text-anchor="start" textLength="48.4" lengthAdjust="spacingAndGlyphs" stroke="#131722" stroke-width="0.3">75,77729</text>
<rect x="1758" y="210.0" width="62" height="17.0" rx="2" fill="#2962ff"/>
<text x="1766.0" y="221.8" font-size="12.7" fill="#fff" text-anchor="start" textLength="48.4" lengthAdjust="spacingAndGlyphs" stroke="#fff" stroke-width="0.3">74,43960</text>
<rect x="1758" y="225.0" width="62" height="19.0" rx="0" fill="#ef9a9a"/>
<rect x="1758" y="210.0" width="62" height="17.0" rx="2" fill="#2962ff"/>
<text x="1766.0" y="221.8" font-size="12.7" fill="#fff" text-anchor="start" textLength="48.4" lengthAdjust="spacingAndGlyphs" stroke="#fff" stroke-width="0.3">74,43960</text>
<rect x="1758" y="227.0" width="62" height="17.0" rx="0" fill="#ef9a9a"/>
<text x="1766.0" y="238.8" font-size="12.7" fill="#131722" text-anchor="start" textLength="48.4" lengthAdjust="spacingAndGlyphs" stroke="#131722" stroke-width="0.3">74,26353</text>
<rect x="1758" y="244.0" width="62" height="17.0" rx="2" fill="#f23645"/>
<text x="1766.0" y="255.8" font-size="12.7" fill="#fff" text-anchor="start" textLength="48.4" lengthAdjust="spacingAndGlyphs" stroke="#fff" stroke-width="0.3">73,91919</text>
<rect x="1758" y="263.0" width="62" height="17.0" rx="2" fill="#43a047"/>
<text x="1766.0" y="274.9" font-size="12.7" fill="#fff" text-anchor="start" textLength="48.4" lengthAdjust="spacingAndGlyphs" stroke="#fff" stroke-width="0.3">71,59200</text>
<rect x="1758" y="278.0" width="62" height="50.0" rx="2" fill="#f23645"/>
<rect x="1758" y="263.0" width="62" height="17.0" rx="2" fill="#43a047"/>
<text x="1766.0" y="274.9" font-size="12.7" fill="#fff" text-anchor="start" textLength="48.4" lengthAdjust="spacingAndGlyphs" stroke="#fff" stroke-width="0.3">71,59200</text>
<text x="1766.0" y="291.9" font-size="12.7" fill="#fff" text-anchor="start" textLength="48.4" lengthAdjust="spacingAndGlyphs" stroke="#fff" stroke-width="0.3">71,59200</text>
<text x="1766.0" y="305.6" font-size="12.7" fill="#fbc3c8" text-anchor="start" textLength="29.0" lengthAdjust="spacingAndGlyphs">46:13</text>
<text x="1766.0" y="322.9" font-size="12.7" fill="#fff" text-anchor="start" textLength="48.4" lengthAdjust="spacingAndGlyphs" stroke="#fff" stroke-width="0.3">70,51893</text>
<rect x="1758" y="802" width="37" height="17" rx="2" fill="#2962ff"/>
<text x="1766.0" y="813.9" font-size="12.7" fill="#fff" text-anchor="start" textLength="23.2" lengthAdjust="spacingAndGlyphs" stroke="#fff" stroke-width="0.3">8,85</text>
<clipPath id="ct"><rect x="11" y="820" width="1745.7" height="28"/></clipPath><g clip-path="url(#ct)">
<text x="7.7" y="839.0" font-size="12.7" fill="#131722" text-anchor="start" textLength="12.6" lengthAdjust="spacingAndGlyphs">20</text>
<text x="64.7" y="839.0" font-size="12.7" fill="#131722" text-anchor="start" textLength="12.6" lengthAdjust="spacingAndGlyphs">21</text>
<text x="123.7" y="839.0" font-size="12.7" fill="#131722" text-anchor="start" textLength="12.6" lengthAdjust="spacingAndGlyphs">24</text>
<text x="181.7" y="839.0" font-size="12.7" fill="#131722" text-anchor="start" textLength="12.6" lengthAdjust="spacingAndGlyphs">25</text>
<text x="240.7" y="839.0" font-size="12.7" fill="#131722" text-anchor="start" textLength="12.6" lengthAdjust="spacingAndGlyphs">26</text>
<text x="298.7" y="839.0" font-size="12.7" fill="#131722" text-anchor="start" textLength="12.6" lengthAdjust="spacingAndGlyphs">27</text>
<text x="356.7" y="839.0" font-size="12.7" fill="#131722" text-anchor="start" textLength="12.6" lengthAdjust="spacingAndGlyphs">28</text>
<text x="412.0" y="839.0" font-size="12.7" fill="#131722" text-anchor="start" textLength="18.0" lengthAdjust="spacingAndGlyphs">Ara</text>
<text x="475.9" y="839.0" font-size="12.7" fill="#131722" text-anchor="start" textLength="6.3" lengthAdjust="spacingAndGlyphs">2</text>
<text x="534.9" y="839.0" font-size="12.7" fill="#131722" text-anchor="start" textLength="6.3" lengthAdjust="spacingAndGlyphs">3</text>
<text x="592.9" y="839.0" font-size="12.7" fill="#131722" text-anchor="start" textLength="6.3" lengthAdjust="spacingAndGlyphs">4</text>
<text x="650.9" y="839.0" font-size="12.7" fill="#131722" text-anchor="start" textLength="6.3" lengthAdjust="spacingAndGlyphs">5</text>
<text x="708.9" y="839.0" font-size="12.7" fill="#131722" text-anchor="start" textLength="6.3" lengthAdjust="spacingAndGlyphs">8</text>
<text x="767.9" y="839.0" font-size="12.7" fill="#131722" text-anchor="start" textLength="6.3" lengthAdjust="spacingAndGlyphs">9</text>
<text x="822.7" y="839.0" font-size="12.7" fill="#131722" text-anchor="start" textLength="12.6" lengthAdjust="spacingAndGlyphs">10</text>
<text x="880.7" y="839.0" font-size="12.7" fill="#131722" text-anchor="start" textLength="12.6" lengthAdjust="spacingAndGlyphs">11</text>
<text x="938.7" y="839.0" font-size="12.7" fill="#131722" text-anchor="start" textLength="12.6" lengthAdjust="spacingAndGlyphs">12</text>
<text x="997.7" y="839.0" font-size="12.7" fill="#131722" text-anchor="start" textLength="12.6" lengthAdjust="spacingAndGlyphs">15</text>
<text x="1055.7" y="839.0" font-size="12.7" fill="#131722" text-anchor="start" textLength="12.6" lengthAdjust="spacingAndGlyphs">16</text>
<text x="1114.7" y="839.0" font-size="12.7" fill="#131722" text-anchor="start" textLength="12.6" lengthAdjust="spacingAndGlyphs">17</text>
<text x="1172.7" y="839.0" font-size="12.7" fill="#131722" text-anchor="start" textLength="12.6" lengthAdjust="spacingAndGlyphs">18</text>
<text x="1230.7" y="839.0" font-size="12.7" fill="#131722" text-anchor="start" textLength="12.6" lengthAdjust="spacingAndGlyphs">19</text>
<text x="1288.7" y="839.0" font-size="12.7" fill="#131722" text-anchor="start" textLength="12.6" lengthAdjust="spacingAndGlyphs">22</text>
<text x="1346.7" y="839.0" font-size="12.7" fill="#131722" text-anchor="start" textLength="12.6" lengthAdjust="spacingAndGlyphs">23</text>
<text x="1404.7" y="839.0" font-size="12.7" fill="#131722" text-anchor="start" textLength="12.6" lengthAdjust="spacingAndGlyphs">24</text>
<text x="1463.7" y="839.0" font-size="12.7" fill="#131722" text-anchor="start" textLength="12.6" lengthAdjust="spacingAndGlyphs">26</text>
<text x="1521.7" y="839.0" font-size="12.7" fill="#131722" text-anchor="start" textLength="12.6" lengthAdjust="spacingAndGlyphs">29</text>
<text x="1579.7" y="839.0" font-size="12.7" fill="#131722" text-anchor="start" textLength="12.6" lengthAdjust="spacingAndGlyphs">30</text>
<text x="1637.7" y="839.0" font-size="12.7" fill="#131722" text-anchor="start" textLength="12.6" lengthAdjust="spacingAndGlyphs">31</text>
<text x="1689.5" y="839.0" font-size="12.7" fill="#131722" text-anchor="start" textLength="27.0" lengthAdjust="spacingAndGlyphs" font-weight="bold">2026</text>
</g>
<text x="10.6" y="18.8" font-size="12.7" fill="#000" text-anchor="start" textLength="496.7" lengthAdjust="spacingAndGlyphs">busra_kapan tarafından TradingView.com ile Ara 31, 2025 07:13 UTC+2 tarihinde oluşturuldu</text>
<text x="18.2" y="45.6" font-size="12.7" fill="#131722" text-anchor="start" textLength="176.3" lengthAdjust="spacingAndGlyphs">Gümüş/ABD Doları · 4sa · OANDA</text>
<text x="202.5" y="45.6" font-size="12.7" fill="#131722" text-anchor="start" textLength="6.8" lengthAdjust="spacingAndGlyphs">A</text>
<text x="209.5" y="45.6" font-size="12.7" fill="#f23645" text-anchor="start" textLength="47.5" lengthAdjust="spacingAndGlyphs">75,46300</text>
<text x="265.0" y="45.6" font-size="12.7" fill="#131722" text-anchor="start" textLength="6.8" lengthAdjust="spacingAndGlyphs">Y</text>
<text x="272.0" y="45.6" font-size="12.7" fill="#f23645" text-anchor="start" textLength="48.0" lengthAdjust="spacingAndGlyphs">75,81210</text>
<text x="327.5" y="45.6" font-size="12.7" fill="#131722" text-anchor="start" textLength="6.8" lengthAdjust="spacingAndGlyphs">D</text>
<text x="335.0" y="45.6" font-size="12.7" fill="#f23645" text-anchor="start" textLength="48.0" lengthAdjust="spacingAndGlyphs">71,42650</text>
<text x="390.0" y="45.6" font-size="12.7" fill="#131722" text-anchor="start" textLength="6.8" lengthAdjust="spacingAndGlyphs">K</text>
<text x="397.0" y="45.6" font-size="12.7" fill="#f23645" text-anchor="start" textLength="48.0" lengthAdjust="spacingAndGlyphs">71,59200</text>
<text x="453.5" y="45.6" font-size="12.7" fill="#f23645" text-anchor="start" textLength="96.5" lengthAdjust="spacingAndGlyphs">−3,86300 (−5,12%)</text>
<text x="18.2" y="62.6" font-size="12.7" fill="#131722" text-anchor="start" textLength="127.8" lengthAdjust="spacingAndGlyphs">Ichimoku (9, 26, 52, 26)</text>
<text x="153.7" y="62.6" font-size="12.7" fill="#2962ff" text-anchor="start" textLength="48.0" lengthAdjust="spacingAndGlyphs">74,43960</text>
<text x="209.7" y="62.6" font-size="12.7" fill="#b71c1c" text-anchor="start" textLength="48.0" lengthAdjust="spacingAndGlyphs">77,11498</text>
<text x="265.7" y="62.6" font-size="12.7" fill="#43a047" text-anchor="start" textLength="48.0" lengthAdjust="spacingAndGlyphs">71,59200</text>
<text x="321.0" y="62.6" font-size="12.7" fill="#a5d6a7" text-anchor="start" textLength="48.0" lengthAdjust="spacingAndGlyphs">75,77729</text>
<text x="376.7" y="62.6" font-size="12.7" fill="#ef9a9a" text-anchor="start" textLength="48.0" lengthAdjust="spacingAndGlyphs">74,26353</text>
<text x="18.0" y="720.8" font-size="12.7" fill="#131722" text-anchor="start" textLength="83.0" lengthAdjust="spacingAndGlyphs">CRSI (3, 2, 100)</text>
<text x="108.7" y="720.8" font-size="12.7" fill="#2962ff" text-anchor="start" textLength="22.8" lengthAdjust="spacingAndGlyphs">8,85</text>
<g fill="#111"><path d="M11.9,871.3 H23.6 V885.8 H17.75 V876.7 H11.9 Z"/><circle cx="29" cy="873.8" r="2.7"/><path d="M34.4,871.3 H41.8 L35.9,885.8 H29 Z"/></g>
<text x="49.1" y="885.8" font-size="21.5" fill="#111" text-anchor="start" textLength="120.7" lengthAdjust="spacingAndGlyphs" font-weight="bold">TradingView</text>
</svg></body></html>
